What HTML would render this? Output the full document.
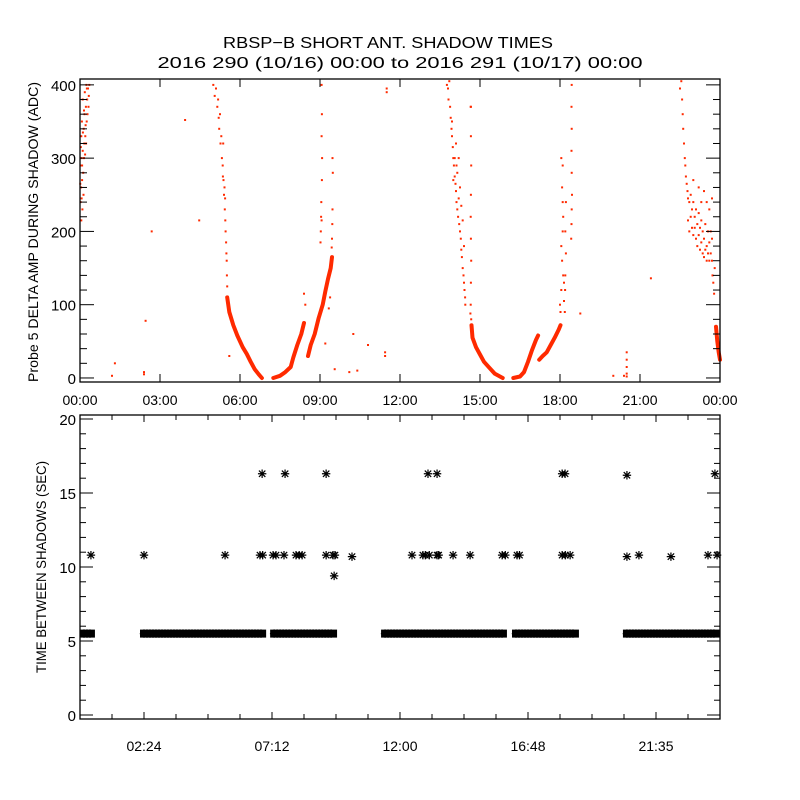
<!DOCTYPE html>
<html><head><meta charset="utf-8"><style>
html,body{margin:0;padding:0;background:#fff;}
svg{display:block;font-family:"Liberation Sans",sans-serif;}
</style></head><body>
<svg id="chart" width="800" height="800" viewBox="0 0 800 800" xmlns="http://www.w3.org/2000/svg">
<rect x="0" y="0" width="800" height="800" fill="#fff"/>
<text x="388" y="48" text-anchor="middle" font-size="16" textLength="330" lengthAdjust="spacingAndGlyphs">RBSP−B SHORT ANT. SHADOW TIMES</text>
<text x="400" y="68" text-anchor="middle" font-size="16" textLength="485" lengthAdjust="spacingAndGlyphs">2016 290 (10/16) 00:00 to 2016 291 (10/17) 00:00</text>
<g id="topPanel"></g>
<g id="botPanel"></g>
</svg>
<script>
// ---------- TOP PANEL DATA (hours, ADC) ----------
const topXTicks = [0,3,6,9,12,15,18,21,24];
const topXTickLabels = ["00:00","03:00","06:00","09:00","12:00","15:00","18:00","21:00","00:00"];
const topYTicks = [0,100,200,300,400];
const bandA = [[5.52,110],[5.6,90],[5.75,72],[5.9,58],[6.1,42],[6.25,33],[6.4,22],[6.55,12],[6.7,5],[6.82,0]];
const bandB1 = [[7.25,0],[7.5,3],[7.7,8],[7.9,15],[8.0,28],[8.15,45],[8.3,60],[8.4,75]];
const bandB2 = [[8.55,30],[8.65,45],[8.8,60],[8.95,82],[9.1,100],[9.2,118],[9.3,135],[9.4,150],[9.45,165]];
const bandC = [[14.68,72],[14.72,55],[14.85,42],[15.0,32],[15.15,22],[15.35,14],[15.55,6],[15.85,0]];
const bandD1 = [[16.25,0],[16.5,2],[16.65,8],[16.8,22],[16.95,38],[17.1,52],[17.18,58]];
const bandD2 = [[17.22,25],[17.35,30],[17.5,35],[17.65,45],[17.8,55],[17.95,66],[18.02,72]];
const bandE = [[23.85,70],[23.9,50],[23.95,35],[24.0,25]];
const scatterPts = [
[0.02,240],[0.03,290],[0.05,330],[0.04,260],[0.06,300],[0.08,270],[0.07,350],[0.1,310],[0.12,280],[0.1,380],
[0.14,340],[0.15,300],[0.17,360],[0.18,390],[0.2,330],[0.22,370],[0.24,400],[0.25,350],[0.27,380],[0.3,395],
[0.32,370],[0.35,400],[0.13,250],[0.09,230],[0.16,320],[0.21,345],[0.28,360],[0.05,215],[0.19,305],[0.33,385],
[0.01,265],[0.03,315],[0.06,245],[0.11,335],[0.15,365],[0.23,320],[0.26,395],[0.08,290],
[5.0,400],[5.05,385],[5.1,395],[5.15,370],[5.18,380],[5.2,355],[5.22,340],[5.25,360],[5.27,320],[5.3,330],
[5.32,300],[5.35,290],[5.37,320],[5.38,270],[5.4,250],[5.42,260],[5.43,230],[5.45,215],[5.46,200],[5.48,185],
[5.49,170],[5.5,160],[5.51,140],[5.52,125],[5.44,245],[5.36,275],[5.6,30],
[9.06,400],[9.07,360],[9.06,330],[9.08,300],[9.07,270],[9.05,240],[9.04,220],[9.03,200],[9.02,185],[9.06,215],
[9.47,300],[9.48,280],[9.47,230],[9.46,210],[9.45,190],[9.44,178],[8.4,115],[8.45,100],[9.38,110],[9.33,95],
[13.76,400],[13.8,395],[13.85,405],[13.82,380],[13.88,370],[13.9,355],[13.93,340],[13.95,330],[13.98,315],[14.0,300],
[14.02,290],[14.05,275],[14.08,265],[14.0,270],[14.1,255],[14.12,240],[14.15,230],[14.18,220],[14.2,245],[14.22,210],
[14.25,200],[14.28,190],[14.3,175],[14.32,165],[14.35,150],[14.38,140],[14.4,130],[14.42,120],[14.44,110],[14.45,100],
[14.05,300],[14.15,280],[14.25,260],[14.3,235],[14.35,215],[14.4,180],[13.95,350],[14.1,320],[14.2,300],[14.12,290],
[14.65,370],[14.66,330],[14.67,290],[14.66,250],[14.65,220],[14.66,190],[14.67,160],[14.66,130],[14.65,100],[14.64,88],
[18.05,300],[18.1,290],[18.08,260],[18.1,240],[18.12,220],[18.1,200],[18.05,180],[18.08,160],[18.12,140],[18.05,120],
[18.0,100],[18.02,90],[18.15,105],[18.2,200],[18.22,170],[18.2,140],[18.19,120],[18.18,90],[18.15,130],[18.22,240],
[18.44,400],[18.43,370],[18.44,340],[18.43,310],[18.44,280],[18.45,250],[18.44,230],[18.43,210],[18.42,190],[18.76,88],
[22.5,395],[22.55,405],[22.58,380],[22.6,360],[22.62,340],[22.65,320],[22.68,300],[22.7,290],[22.72,275],[22.75,265],
[22.78,255],[22.8,245],[22.85,240],[22.9,250],[22.95,230],[23.0,240],[23.05,220],[23.1,230],[23.15,210],[23.2,225],
[23.25,205],[23.3,215],[23.35,200],[23.4,190],[23.45,210],[23.5,180],[23.55,200],[23.6,185],[23.65,170],[23.7,190],
[22.8,215],[22.85,200],[22.9,220],[22.95,205],[23.0,195],[23.05,205],[23.1,190],[23.15,180],[23.2,195],[23.25,175],
[23.3,185],[23.35,170],[23.4,165],[23.45,175],[23.5,160],[23.55,170],[23.6,160],[23.65,200],[23.7,160],[23.72,140],
[23.75,130],[23.78,115],[23.8,150],[23.6,230],[23.5,240],[23.4,255],[23.3,240],[23.2,260],[23.0,270],[23.7,245],
[11.5,395],[11.5,390],[10.25,60],[10.8,45],[11.44,35],[11.44,30],[10.1,8],[10.4,10],[9.55,12],[9.2,47],
[3.94,352],[4.47,215],[2.69,200],[2.46,78],[1.31,20],[2.4,5],[2.4,8],[1.2,3],[21.41,136],[20.5,35],
[20.5,25],[20.5,15],[20.5,6],[20.5,2],[20.0,3],[20.4,3],[14.66,370],[14.67,80]
];
// ---------- BOTTOM PANEL DATA (hours, seconds) ----------
const botXTicks = [2.4,7.2,12.0,16.8,21.6];
const botXTickLabels = ["02:24","07:12","12:00","16:48","21:35"];
const botYTicks = [0,5,10,15,20];
const bandStarts = [0.0,2.25,7.13,11.29,16.2,20.36];
const bandEnds = [0.56,6.98,9.64,16.01,18.71,24.0];
const bandValue = 5.5;
const starTimes = [0.41,2.4,5.44,6.75,6.85,7.24,7.35,7.65,8.1,8.22,8.33,9.23,9.49,9.56,10.2,9.53,
12.45,12.86,12.95,13.1,13.39,13.45,13.99,14.63,15.83,15.95,16.39,16.48,18.08,18.2,18.38,20.51,20.96,22.16,23.55,23.89,
6.83,7.69,9.23,13.05,13.39,18.08,18.19,20.51,23.81];
const starValues = [10.8,10.8,10.8,10.8,10.8,10.8,10.8,10.8,10.8,10.8,10.8,10.8,10.8,10.8,10.7,9.4,
10.8,10.8,10.8,10.8,10.8,10.8,10.8,10.8,10.8,10.8,10.8,10.8,10.8,10.8,10.8,10.7,10.8,10.7,10.8,10.8,
16.3,16.3,16.3,16.3,16.3,16.3,16.3,16.2,16.3];

const NS="http://www.w3.org/2000/svg";
function mk(tag, attrs, parent){const e=document.createElementNS(NS,tag);for(const k in attrs)e.setAttribute(k,attrs[k]);parent.appendChild(e);return e;}
const X0=80,X1=720;
const xs=h=>X0+(h/24)*(X1-X0);
const T0=79,T1=382,TVMIN=-5.5,TVMAX=408;
const yt=v=>T1-(v-TVMIN)/(TVMAX-TVMIN)*(T1-T0);
const B0=415,B1=719,BVMIN=-0.27,BVMAX=20.27;
const yb=v=>B1-(v-BVMIN)/(BVMAX-BVMIN)*(B1-B0);

const topG=document.getElementById('topPanel');
const botG=document.getElementById('botPanel');
const RED="#ff2a00";

[bandA,bandB1,bandB2,bandC,bandD1,bandD2,bandE].forEach(b=>{
  const p=mk('polyline',{points:b.map(d=>xs(d[0]).toFixed(1)+','+yt(d[1]).toFixed(1)).join(' '),fill:'none',stroke:RED,'stroke-width':4,'stroke-linejoin':'round','stroke-linecap':'round'},topG);
  
  
});
scatterPts.forEach(d=>{
  const r=mk('rect',{x:(xs(d[0])-1).toFixed(1),y:(yt(d[1])-1).toFixed(1),width:2,height:2,fill:RED},topG);
  
  
});
const tf=mk('rect',{x:X0,y:T0,width:X1-X0,height:T1-T0,fill:'none',stroke:'#000','stroke-width':1.3},topG);


topXTicks.forEach((h,i)=>{
  const x=xs(h);
  mk('line',{x1:x,x2:x,y1:T1,y2:T1-8,stroke:'#000'},topG);
  mk('line',{x1:x,x2:x,y1:T0,y2:T0+8,stroke:'#000'},topG);
  const t=mk('text',{x:x,y:405,'text-anchor':'middle','font-size':14},topG);
  t.textContent=topXTickLabels[i];
  
  
});
for(let v=0;v<=400;v+=20){
  const y=yt(v),L=(v%100===0)?14:7;
  mk('line',{x1:X0,x2:X0+L,y1:y,y2:y,stroke:'#000'},topG);
  mk('line',{x1:X1,x2:X1-L,y1:y,y2:y,stroke:'#000'},topG);
}
topYTicks.forEach(v=>{
  const t=mk('text',{x:76,y:yt(v)+6,'text-anchor':'end','font-size':15},topG);
  t.textContent=String(v);
  
  
});
const tyl=mk('text',{x:0,y:0,'text-anchor':'middle','font-size':14,transform:'translate(38,232) rotate(-90)',textLength:300,lengthAdjust:'spacingAndGlyphs'},topG);
tyl.textContent='Probe 5 DELTA AMP DURING SHADOW (ADC)';



function star(x,y,g){
  const s=4.2,d=3.2;
  return mk('path',{d:`M${x-s},${y}H${x+s}M${x},${y-s}V${y+s}M${x-d},${y-d}L${x+d},${y+d}M${x-d},${y+d}L${x+d},${y-d}`,stroke:'#000','stroke-width':1.2,fill:'none'},g);
}
bandStarts.forEach((s,i)=>{
  const g=mk('g',{},botG);
  
  
  const xa=xs(s),xb=xs(bandEnds[i]),y=yb(bandValue);
  mk('rect',{x:xa,y:y-4,width:Math.max(0,xb-xa),height:8,fill:'#000'},g);
  for(let x=xa+4;x<=xb-4;x+=3) star(x,y,g);
});
starTimes.forEach((h,i)=>{
  const p=star(xs(h),yb(starValues[i]),botG);
  
  
});
const bf=mk('rect',{x:X0,y:B0,width:X1-X0,height:B1-B0,fill:'none',stroke:'#000','stroke-width':1.3},botG);


for(let k=1;k<20;k++){
  const x=xs(k*1.2),L=(k%4===2)?7:5;
  mk('line',{x1:x,x2:x,y1:B1,y2:B1-L,stroke:'#000'},botG);
  mk('line',{x1:x,x2:x,y1:B0,y2:B0+L,stroke:'#000'},botG);
}
botXTicks.forEach((h,i)=>{
  const t=mk('text',{x:xs(h),y:751,'text-anchor':'middle','font-size':14},botG);
  t.textContent=botXTickLabels[i];
  
  
});
for(let v=0;v<=20;v++){
  const y=yb(v),L=(v%5===0)?13:6;
  mk('line',{x1:X0,x2:X0+L,y1:y,y2:y,stroke:'#000'},botG);
  mk('line',{x1:X1,x2:X1-L,y1:y,y2:y,stroke:'#000'},botG);
}
botYTicks.forEach(v=>{
  const t=mk('text',{x:76,y:yb(v)+6,'text-anchor':'end','font-size':15},botG);
  t.textContent=String(v);
  
  
});
const byl=mk('text',{x:0,y:0,'text-anchor':'middle','font-size':14,transform:'translate(46,567) rotate(-90)',textLength:212,lengthAdjust:'spacingAndGlyphs'},botG);
byl.textContent='TIME BETWEEN SHADOWS (SEC)';


</script>
</body></html>
